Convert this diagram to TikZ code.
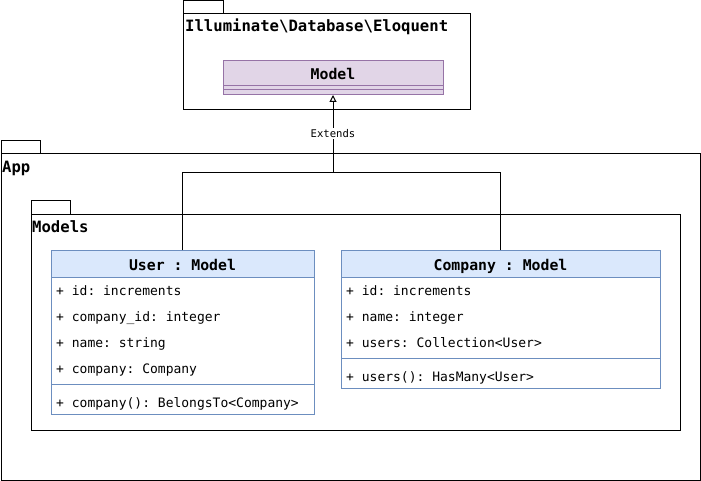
\documentclass[tikz,border=0pt]{standalone}
\usepackage{fontspec}
\setmainfont{DejaVu Sans Mono}
\setmonofont{DejaVu Sans Mono}
\usetikzlibrary{arrows.meta}
\frenchspacing
\definecolor{modfill}{HTML}{E1D5E7}
\definecolor{modline}{HTML}{9673A6}
\definecolor{clsfill}{HTML}{DAE8FC}
\definecolor{clsline}{HTML}{6C8EBF}
\tikzset{
  pkg/.style={draw=black, line width=1pt},
  pkgtitle/.style={anchor=west, inner sep=0pt, text height=11pt, text depth=3pt, font=\fontsize{15.6}{18}\selectfont\bfseries},
  clsbox/.style={draw=clsline, line width=1pt, anchor=north west, inner sep=0pt},
  clshead/.style={font=\fontsize{14.8}{17}\selectfont\bfseries, inner sep=0pt, text height=10.5pt, text depth=3pt},
  attr/.style={anchor=west, inner sep=0pt, text height=9.5pt, text depth=3pt, font=\fontsize{13}{15}\selectfont},
  conn/.style={draw=black, line width=1pt},
}
\begin{document}
\begin{tikzpicture}[x=1pt,y=-1pt]
\useasboundingbox (0,0) rectangle (701,481);
% Eloquent package
\draw[pkg] (183,1) rectangle (223,14);
\draw[pkg] (183,14) rectangle (470,110);
\node[pkgtitle] (eloq) at (185,27.5) {Illuminate\textbackslash Database\textbackslash Eloquent};
% Model class
\node[draw=modline, fill=modfill, line width=1pt, anchor=north west, inner sep=0pt, minimum width=220pt, minimum height=34pt] (model) at (223,60) {};
\draw[modline, line width=1pt] (223,86) -- (443,86);
\draw[modline, line width=1pt] (223,89.5) -- (443,89.5);
\node[clshead] (modelt) at (333,76) {Model};
% App package
\draw[pkg] (1,141) rectangle (40,154);
\draw[pkg] (1,154) rectangle (700,480);
\node[pkgtitle] (app) at (2,168.5) {App};
% Models package
\draw[pkg] (31,201) rectangle (70,214);
\draw[pkg] (31,214) rectangle (680,430);
\node[pkgtitle] (models) at (32,228.5) {Models};
% User class
\node[clsbox, fill=white, minimum width=263pt, minimum height=164pt] (user) at (51,250) {};
\fill[clsfill] (51.5,250.5) rectangle (313.5,277);
\draw[clsline, line width=1pt] (51,250) rectangle (314,414);
\draw[clsline, line width=1pt] (51,277) -- (314,277);
\draw[clsline, line width=1pt] (51,384) -- (314,384);
\node[clshead] (usert) at (182.5,266.5) {User : Model};
\node[attr] (u1) at (56,292.5) {+ id: increments};
\node[attr] (u2) at (56,318.5) {+ company\_id: integer};
\node[attr] (u3) at (56,344.5) {+ name: string};
\node[attr] (u4) at (56,370.5) {+ company: Company};
\node[attr] (u5) at (56,404.5) {+ company(): BelongsTo<Company>};
% Company class
\node[clsbox, fill=white, minimum width=319pt, minimum height=138pt] (comp) at (341,250) {};
\fill[clsfill] (341.5,250.5) rectangle (659.5,277);
\draw[clsline, line width=1pt] (341,250) rectangle (660,388);
\draw[clsline, line width=1pt] (341,277) -- (660,277);
\draw[clsline, line width=1pt] (341,358) -- (660,358);
\node[clshead] (compt) at (500.5,266.5) {Company : Model};
\node[attr] (c1) at (346,292.5) {+ id: increments};
\node[attr] (c2) at (346,318.5) {+ name: integer};
\node[attr] (c3) at (346,344.5) {+ users: Collection<User>};
\node[attr] (c4) at (346,378.5) {+ users(): HasMany<User>};
% connectors
\coordinate (j) at (333,173);
\draw[conn] (user.north -| 182,0) |- (j);
\draw[conn] (comp.north -| 500,0) |- (j);
\draw[conn, -{Triangle[open,width=7pt,length=7pt]}] (j) -- (model.south -| 333,0);
\node[fill=white, inner sep=1.5pt, font=\fontsize{10.6}{12}\selectfont] (ext) at (333,133.5) {Extends};
\end{tikzpicture}
\end{document}
